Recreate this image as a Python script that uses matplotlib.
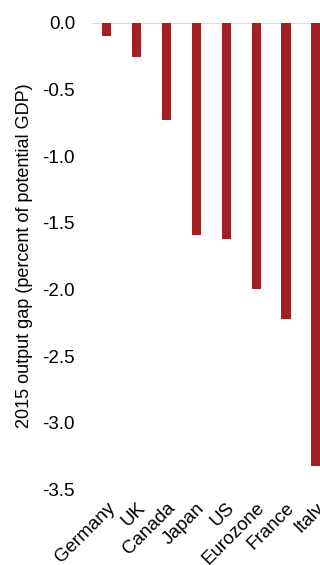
import matplotlib
matplotlib.use("Agg")
import matplotlib.pyplot as plt

countries = ["Germany", "UK", "Canada", "Japan", "US", "Eurozone", "France", "Italy"]
output_gap = [-0.10, -0.26, -0.73, -1.59, -1.62, -2.00, -2.22, -3.32]
yticks = [0.0, -0.5, -1.0, -1.5, -2.0, -2.5, -3.0, -3.5]

plt.rcParams['font.family'] = ['Liberation Sans', 'DejaVu Sans']

fig = plt.figure(figsize=(3.2, 5.65), dpi=100)
ax = fig.add_axes([0.2866, 0.1335, 0.7475, 0.8263])

x = list(range(len(countries)))
ax.bar(x, output_gap, width=0.31, color='#A21F24', zorder=2)
ax.axhline(0, color='#D9D9D9', lw=1.5, zorder=1)

ax.set_xlim(-0.5, len(countries) - 0.5)
ax.set_ylim(-3.5, 0.0)
ax.set_yticks(yticks)
ax.set_yticklabels([f"{v:.1f}" for v in yticks], fontsize=13.5)
ax.set_xticks(x)
ax.set_xticklabels(countries, rotation=45, ha='right', rotation_mode='anchor', fontsize=13.5)
ax.tick_params(axis='both', length=0)
ax.tick_params(axis='y', pad=12)
ax.tick_params(axis='x', pad=7)
for s in ax.spines.values():
    s.set_visible(False)

ax.set_ylabel("2015 output gap (percent of potential GDP)", fontsize=13, labelpad=7)

fig.savefig("out.png", dpi=100)
